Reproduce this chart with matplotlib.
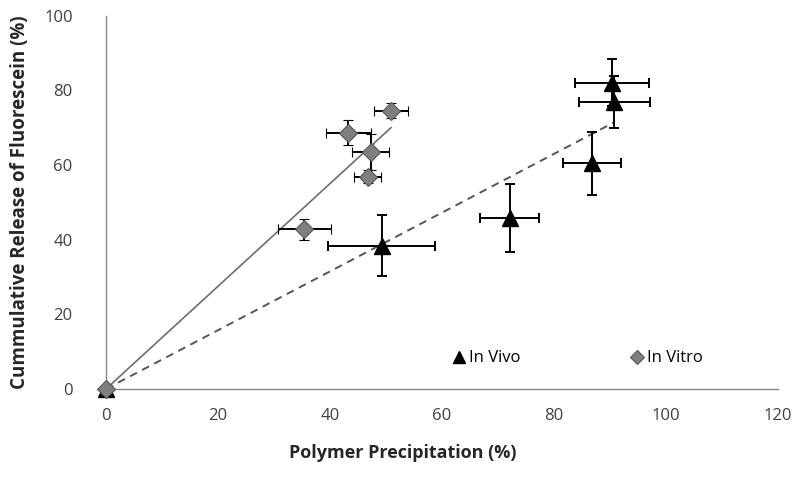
import numpy as np
import matplotlib.pyplot as plt

plt.rcParams['font.family'] = ['Open Sans', 'DejaVu Sans']

# In Vivo (triangles)
vivo_x = [0, 49.2, 72.1, 86.8, 90.8, 90.3]
vivo_y = [0, 38.4, 45.8, 60.5, 77.0, 82.1]
vivo_xerr = [0, 9.5, 5.3, 5.2, 6.3, 6.6]
vivo_yerr = [0, 8.1, 9.2, 8.4, 7.0, 6.2]

# In Vitro (diamonds)
vitro_x = [0, 35.4, 43.3, 47.3, 46.7, 50.9]
vitro_y = [0, 42.8, 68.7, 63.6, 56.9, 74.5]
vitro_xerr = [0, 4.7, 4.0, 3.3, 2.4, 3.1]
vitro_yerr = [0, 2.8, 3.3, 4.8, 1.8, 2.0]

fig = plt.figure(figsize=(8, 4.79), dpi=100)
ax = fig.add_axes([0.1325, 0.188, 0.84, 0.779])

# linear trendlines through the origin
def trend(x, y):
    x = np.array(x); y = np.array(y)
    k = np.sum(x * y) / np.sum(x * x)
    xs = np.array([0, x.max()])
    return xs, k * xs

tx, ty = trend(vitro_x, vitro_y)
ax.plot(tx, ty, color='#6e6e6e', lw=1.2, zorder=2)
tx, ty = trend(vivo_x, vivo_y)
ax.plot(tx, ty, color='#555555', lw=1.4, ls=(0, (4, 3)), zorder=2)

ax.errorbar(vivo_x, vivo_y, xerr=vivo_xerr, yerr=vivo_yerr, fmt='^', color='black',
            ecolor='black', elinewidth=1.4, capsize=3.5, capthick=1.4,
            markersize=11, label='In Vivo', zorder=3, clip_on=False)
ax.errorbar(vitro_x, vitro_y, xerr=vitro_xerr, yerr=vitro_yerr, fmt='D', color='#7f7f7f',
            mec='#555555', mew=0.8, ecolor='black', elinewidth=1.4, capsize=3.5,
            capthick=1.4, markersize=9, label='In Vitro', zorder=4, clip_on=False)

ax.set_xlim(0, 120)
ax.set_ylim(0, 100)
ax.set_xticks(range(0, 121, 20))
ax.set_yticks(range(0, 101, 20))
ax.tick_params(length=0, labelsize=12, labelcolor='#404040')
ax.tick_params(axis='y', pad=24)
ax.tick_params(axis='x', pad=14)
for s in ['top', 'right']:
    ax.spines[s].set_visible(False)
for s in ['left', 'bottom']:
    ax.spines[s].set_color('#868686')
    ax.spines[s].set_linewidth(1.0)

ax.set_xlabel('Polymer Precipitation (%)', fontsize=13, fontweight='bold', color='#262626',
              labelpad=14, x=0.442)
ax.set_ylabel('Cummulative Release of Fluorescein (%)', fontsize=13.5, fontweight='bold',
              color='#262626', labelpad=10)

h, l = ax.get_legend_handles_labels()
h = [x[0] for x in h]
ax.legend(h, l, loc='lower left', bbox_to_anchor=(0.49, 0.02), ncol=2, frameon=False,
          fontsize=12, columnspacing=6.5, handletextpad=0.1, handlelength=1.0,
          markerscale=0.75)

fig.savefig('out.png', dpi=100)
